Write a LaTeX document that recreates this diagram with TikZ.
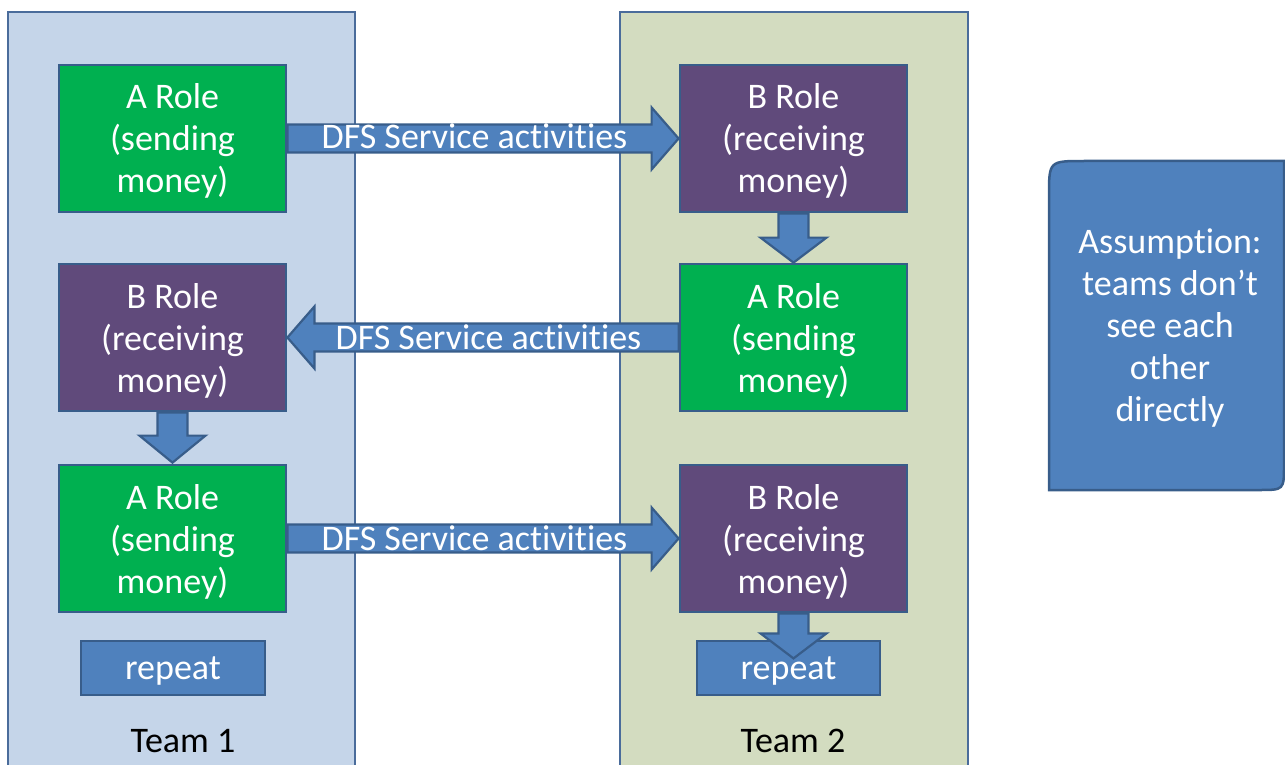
\documentclass[tikz,border=0pt]{standalone}
\usepackage{fontspec}
\setmainfont{Carlito}[Ligatures=NoCommon]
\usetikzlibrary{calc}
\definecolor{teamAfill}{HTML}{C5D5E9}
\definecolor{teamBfill}{HTML}{D3DCC0}
\definecolor{panelline}{HTML}{4A6C9B}
\definecolor{rolegreen}{HTML}{00B050}
\definecolor{rolepurple}{HTML}{604A7B}
\definecolor{accentblue}{HTML}{4F81BD}
\definecolor{edgeblue}{HTML}{385D8A}
\tikzset{
  panel/.style={draw=panelline, line width=2.5pt, inner sep=0pt},
  rolebox/.style={draw=edgeblue, line width=2.8pt, minimum width=227pt, minimum height=147pt,
    inner sep=0pt, align=center, text=white, text depth=0pt, font=\fontsize{36}{42}\selectfont},
  sendbox/.style={rolebox, fill=rolegreen},
  recvbox/.style={rolebox, fill=rolepurple},
  repeatbox/.style={draw=edgeblue, fill=accentblue, line width=2.8pt, minimum height=54pt,
    inner sep=0pt, text=white, text depth=0pt, font=\fontsize{36}{42}\selectfont},
  blockarrow/.style={draw=edgeblue, fill=accentblue, line width=2.2pt, line join=miter},
  flowlabel/.style={text=white, font=\fontsize{36}{42}\selectfont, inner sep=0pt},
  teamlabel/.style={text=black, font=\fontsize{36}{42}\selectfont, inner sep=0pt},
}
\begin{document}
\begin{tikzpicture}[x=1pt, y=-1pt]
\useasboundingbox (0,0) rectangle (1285,765);
\clip (0,0) rectangle (1285,765);

% team panels
\node[panel, fill=teamAfill, minimum width=347pt, minimum height=768pt] (team1) at (181.5,396) {};
\node[panel, fill=teamBfill, minimum width=348pt, minimum height=768pt] (team2) at (794,396) {};
\node[teamlabel] (t1) at (183,741) {Team 1};
\node[teamlabel] (t2) at (793,741) {Team 2};

% role boxes
\node[sendbox] (a1) at (172.5,138.5) {A Role\\(sending\\money)};
\node[recvbox] (b1) at (793.5,138.5) {B Role\\(receiving\\money)};
\node[recvbox] (b2) at (172.5,337.5) {B Role\\(receiving\\money)};
\node[sendbox] (a2) at (793.5,337.5) {A Role\\(sending\\money)};
\node[sendbox] (a3) at (172.5,538.5) {A Role\\(sending\\money)};
\node[recvbox] (b3) at (793.5,538.5) {B Role\\(receiving\\money)};

\node[repeatbox, minimum width=184pt] (rep1) at (173,668) {repeat};
\node[repeatbox, minimum width=183pt] (rep2) at (788.5,668) {repeat};

% horizontal block arrows between the teams
\draw[blockarrow] ($(a1.east)+(0,-14)$) -- ($(b1.west)+(-27,-14)$) -- ($(b1.west)+(-27,-31)$)
  -- (b1.west) -- ($(b1.west)+(-27,31)$) -- ($(b1.west)+(-27,14)$) -- ($(a1.east)+(0,14)$) -- cycle;
\node[flowlabel] (f1) at ($(a1.east)!0.5!($(b1.west)+(-27,0)$)+(5,-2)$) {DFS Service activities};

\draw[blockarrow] ($(a2.west)+(0,-14)$) -- ($(b2.east)+(27,-14)$) -- ($(b2.east)+(27,-31)$)
  -- (b2.east) -- ($(b2.east)+(27,31)$) -- ($(b2.east)+(27,14)$) -- ($(a2.west)+(0,14)$) -- cycle;
\node[flowlabel] (f2) at ($(a2.west)!0.5!($(b2.east)+(27,0)$)+(-8,0)$) {DFS Service activities};

\draw[blockarrow] ($(a3.east)+(0,-14)$) -- ($(b3.west)+(-27,-14)$) -- ($(b3.west)+(-27,-31)$)
  -- (b3.west) -- ($(b3.west)+(-27,31)$) -- ($(b3.west)+(-27,14)$) -- ($(a3.east)+(0,14)$) -- cycle;
\node[flowlabel] (f3) at ($(a3.east)!0.5!($(b3.west)+(-27,0)$)+(5,0)$) {DFS Service activities};

% vertical block arrows inside the teams
\draw[blockarrow] ($(b1.south)+(-15,0)$) -- ($(a2.north)+(-15,-25)$) -- ($(a2.north)+(-33,-25)$)
  -- (a2.north) -- ($(a2.north)+(33,-25)$) -- ($(a2.north)+(15,-25)$) -- ($(b1.south)+(15,0)$) -- cycle;

\draw[blockarrow] ($(b2.south)+(-15,0)$) -- ($(a3.north)+(-15,-28)$) -- ($(a3.north)+(-33,-28)$)
  -- ($(a3.north)+(0,-1)$) -- ($(a3.north)+(33,-28)$) -- ($(a3.north)+(15,-28)$) -- ($(b2.south)+(15,0)$) -- cycle;

\coordinate (tip3) at ($(b3.south)+(0,45)$);
\draw[blockarrow] ($(b3.south)+(-15,0)$) -- ($(tip3)+(-15,-25)$) -- ($(tip3)+(-33,-25)$)
  -- (tip3) -- ($(tip3)+(33,-25)$) -- ($(tip3)+(15,-25)$) -- ($(b3.south)+(15,0)$) -- cycle;

% note on the right
\coordinate (nw) at (1049,161);
\coordinate (ne) at (1284,161);
\coordinate (se) at (1284,490);
\coordinate (sw) at (1049,490);
\draw[blockarrow, line width=2.5pt] (sw) -- ($(nw)+(0,35)$) .. controls (nw) .. ($(nw)+(35,0)$)
  -- (ne) -- ($(se)+(0,-25)$) .. controls (se) .. ($(se)+(-25,0)$) -- cycle;
\node[flowlabel, align=center] (note) at (1170,328) {Assumption:\\teams don’t\\see each\\other\\directly};
\end{tikzpicture}
\end{document}
